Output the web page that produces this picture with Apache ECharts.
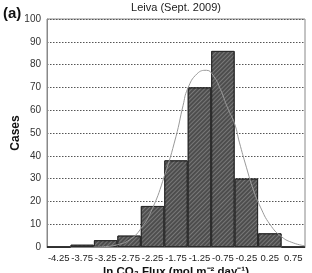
<!DOCTYPE html>
<html>
<head>
<meta charset="utf-8">
<script src="https://cdn.jsdelivr.net/npm/echarts@6/dist/echarts.min.js"></script>
<style>
  html, body { margin: 0; padding: 0; background: #fff; }
  #main { width: 312px; height: 273px; }
</style>
</head>
<body>
<div id="main"></div>
<script>
// bin centres (ln flux) and counts
var bins = ['-4.25', '-3.75', '-3.25', '-2.75', '-2.25', '-1.75', '-1.25', '-0.75', '-0.25', '0.25', '0.75'];
var cases = [0, 1, 3, 5, 18, 38, 70, 86, 30, 6, 0];

// fitted curve: [ln flux, cases]
var curveX = [-3.5, -3.25, -3.0, -2.75, -2.5, -2.25, -2.0, -1.75, -1.6, -1.5, -1.3, -1.1, -0.95, -0.8, -0.65, -0.5, -0.4, -0.25, -0.1, 0.05, 0.25, 0.5, 0.75, 1.0];
var curveY = [0, 0.2, 1.0, 3, 8, 17, 31, 48.5, 62, 69.5, 76, 77.5, 75, 69, 61, 54, 46, 35, 25, 17.5, 10, 4.5, 1.8, 0.5];

var yTicks = [0, 10, 20, 30, 40, 50, 60, 70, 80, 90, 100];

var curve = curveX.map(function (x, i) { return [x, curveY[i]]; });

var chart = echarts.init(document.getElementById('main'));
var option = {
    animation: false,
    textStyle: { fontFamily: 'Liberation Sans, Arial, sans-serif' },
    title: [{
        text: 'Leiva (Sept. 2009)',
        left: 176, top: 2, textAlign: 'center', padding: 0,
        textStyle: { fontSize: 11, fontWeight: 'normal', color: '#222' }
    }, {
        text: '(a)',
        left: 3, top: 6, padding: 0,
        textStyle: { fontSize: 15, fontWeight: 'bold', color: '#111' }
    }],
    grid: {
        left: 47, right: 7, top: 19, bottom: 26,
        outerBoundsMode: 'none',
        show: true, borderColor: '#888', borderWidth: 1
    },
    xAxis: [{
        type: 'category',
        data: bins,
        axisTick: { show: false },
        axisLine: { lineStyle: { color: '#888' } },
        axisLabel: { fontSize: 9.5, color: '#222', interval: 0, margin: 6 },
        name: 'ln CO\u2082 Flux (mol m\u207B\u00B2 day\u207B\u00B9)',
        nameLocation: 'middle', nameGap: 19, nameMoveOverlap: false,
        nameTextStyle: { fontSize: 11.5, fontWeight: 'bold', color: '#111' }
    }, {
        type: 'value', min: -4.5, max: 1.0, show: false
    }],
    yAxis: {
        type: 'value', min: 0, max: 100, interval: 10,
        axisLine: { show: true, onZero: false, lineStyle: { color: '#888' } },
        axisTick: { show: false },
        axisLabel: { fontSize: 10, color: '#333', margin: 6 },
        splitLine: { lineStyle: { color: '#555', type: [1.5, 1.5], width: 1 } },
        name: 'Cases', nameLocation: 'middle', nameGap: 25, nameMoveOverlap: false,
        nameTextStyle: { fontSize: 12, fontWeight: 'bold', color: '#111' }
    },
    series: [{
        type: 'bar',
        data: cases,
        barCategoryGap: 0,
        itemStyle: {
            color: '#4d4d4d',
            borderColor: '#2a2a2a', borderWidth: 1,
            decal: {
                color: 'rgba(200,200,200,0.35)',
                dashArrayX: [1, 0], dashArrayY: [1, 2],
                rotation: -Math.PI / 4
            }
        }
    }, {
        type: 'line',
        xAxisIndex: 1,
        data: curve,
        smooth: true,
        showSymbol: false,
        lineStyle: { color: '#999', width: 1 },
        z: 5
    }]
};
chart.setOption(option);
</script>
</body>
</html>
